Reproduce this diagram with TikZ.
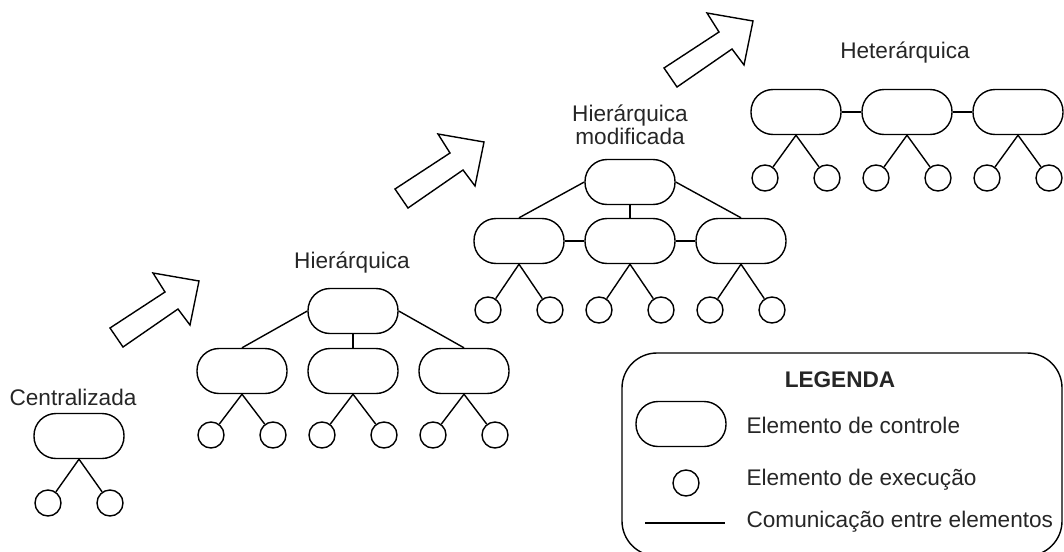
\documentclass[tikz,border=0pt]{standalone}
\usepackage{fontspec}
\setmainfont{Liberation Sans}
\begin{document}
\begin{tikzpicture}[x=1pt,y=-1pt,
  ctrl/.style={draw, line width=1.4pt, rectangle, rounded corners=22pt,
    minimum width=90pt, minimum height=45pt, inner sep=0pt},
  exec/.style={draw, line width=1.4pt, circle, minimum size=26pt, inner sep=0pt},
  link/.style={line width=1.4pt},
  title/.style={font=\fontsize{22.6}{26}\selectfont, text=black!85, align=center},
  legtext/.style={font=\fontsize{22.6}{26}\selectfont, text=black!85, anchor=west},
  blockarrow/.style={draw, line width=1.4pt, fill=white, line join=miter}]
\useasboundingbox (0,0) rectangle (1064,551);

% block arrows between the stages
\foreach \dx/\dy in {0/0, 285/-139, 554/-260}{
  \draw[blockarrow, shift={(\dx,\dy)}]
    (110,328) -- (165,292) -- (153,273) -- (199,281) -- (190,325)
    -- (178,309) -- (123,347) -- cycle;
}

% Centralizada
\node[title] (tc) at (73,397) {Centralizada};
\node[ctrl] (c0) at (79,436) {};
\node[exec] (c0a) at (48,503) {};
\node[exec] (c0b) at (110,503) {};
\draw[link] (c0.south) -- (c0a);
\draw[link] (c0.south) -- (c0b);

% Hierarquica
\node[title] (th) at (352,263) {Hierárquica};
\node[ctrl] (h0) at (353,311) {};
\node[ctrl] (h1) at (242,371) {};
\node[ctrl] (h2) at (353,371) {};
\node[ctrl] (h3) at (464,371) {};
\draw[link] (h0.west) -- (h1.north);
\draw[link] (h0.south) -- (h2.north);
\draw[link] (h0.east) -- (h3.north);
\foreach \i in {1,2,3}{
  \path (h\i) ++(-31,64) node[exec] (h\i a) {};
  \path (h\i) ++(31,64) node[exec] (h\i b) {};
  \draw[link] (h\i.south) -- (h\i a);
  \draw[link] (h\i.south) -- (h\i b);
}

% Hierarquica modificada
\node[title] (tm) at (630,125) {Hierárquica\\[-3pt]modificada};
\node[ctrl] (m0) at (630,182) {};
\node[ctrl] (m1) at (519,241) {};
\node[ctrl] (m2) at (630,241) {};
\node[ctrl] (m3) at (741,241) {};
\draw[link] (m0.west) -- (m1.north);
\draw[link] (m0.south) -- (m2.north);
\draw[link] (m0.east) -- (m3.north);
\draw[link] (m1.east) -- (m2.west);
\draw[link] (m2.east) -- (m3.west);
\foreach \i in {1,2,3}{
  \path (m\i) ++(-31,69) node[exec] (m\i a) {};
  \path (m\i) ++(31,69) node[exec] (m\i b) {};
  \draw[link] (m\i.south) -- (m\i a);
  \draw[link] (m\i.south) -- (m\i b);
}

% Heterarquica
\node[title] (tt) at (905,53) {Heterárquica};
\node[ctrl] (e1) at (796,112) {};
\node[ctrl] (e2) at (907,112) {};
\node[ctrl] (e3) at (1018,112) {};
\draw[link] (e1.east) -- (e2.west);
\draw[link] (e2.east) -- (e3.west);
\foreach \i in {1,2,3}{
  \path (e\i) ++(-31,66) node[exec] (e\i a) {};
  \path (e\i) ++(31,66) node[exec] (e\i b) {};
  \draw[link] (e\i.south) -- (e\i a);
  \draw[link] (e\i.south) -- (e\i b);
}

% legend
\draw[line width=1.4pt, rounded corners=35pt] (622,353) rectangle (1062,556);
\node[title, font=\fontsize{22.6}{26}\selectfont\bfseries] (lg) at (840,380) {LEGENDA};
\node[ctrl] (lc) at (681,424) {};
\node[legtext] (lct) at (743,425) {Elemento de controle};
\node[exec] (le) at (686,483) {};
\node[legtext] (let) at (743,480) {Elemento de execução};
\coordinate (la) at (645,523);
\coordinate (lb) at (725,523);
\draw[link] (la) -- (lb);
\node[legtext] (llt) at (743,522) {Comunicação entre elementos};
\end{tikzpicture}
\end{document}
